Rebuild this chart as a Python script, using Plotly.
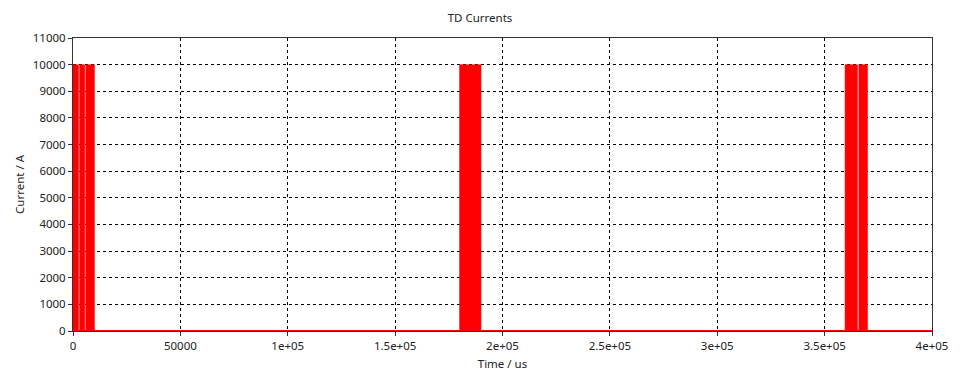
import plotly.graph_objects as go

# Pulse data (microseconds, amperes)
pulse_starts = [0, 3100, 6000, 180000, 359500, 365900]
pulse_ends = [2600, 5500, 10000, 190000, 365300, 370000]
pulse_current = 10000
t_end = 400000

x_ticks = [0, 50000, 100000, 150000, 200000, 250000, 300000, 350000, 400000]
x_ticklabels = ["0", "50000", "1e+05", "1.5e+05", "2e+05", "2.5e+05", "3e+05", "3.5e+05", "4e+05"]
y_ticks = list(range(0, 11001, 1000))
y_ticklabels = [str(v) for v in y_ticks]

fig = go.Figure()
for s, e in zip(pulse_starts, pulse_ends):
    fig.add_trace(go.Scatter(
        x=[s, s, e, e], y=[0, pulse_current, pulse_current, 0],
        mode="lines", fill="toself", fillcolor="#ff0000",
        line=dict(color="#ff0000", width=0.5),
        showlegend=False, hoverinfo="skip", cliponaxis=False))
# baseline at zero current
fig.add_trace(go.Scatter(
    x=[0, t_end], y=[0, 0], mode="lines",
    line=dict(color="#ff0000", width=2),
    showlegend=False, hoverinfo="skip", cliponaxis=False))

font = "Noto Sans"
fig.update_layout(
    width=960, height=376,
    margin=dict(l=73, r=28, t=38, b=45),
    paper_bgcolor="white", plot_bgcolor="white",
    font=dict(family=font, size=11.5, color="#222"),
    title=dict(text="TD Currents", x=0.5, xanchor="center", y=0.952, yanchor="middle",
               font=dict(size=11.5, color="#222", family=font)),
)
fig.update_xaxes(
    range=[0, 400000], tickvals=x_ticks, ticktext=x_ticklabels,
    showgrid=True, gridcolor="black", griddash="dot", gridwidth=1,
    showline=True, linecolor="#333", linewidth=1, mirror=True,
    ticks="outside", ticklen=4, tickcolor="#333",
    zeroline=False, automargin=False, layer="below traces",
    title=dict(text="Time / us", standoff=8, font=dict(size=11.5)),
)
fig.update_yaxes(
    range=[0, 11000], tickvals=y_ticks, ticktext=y_ticklabels,
    showgrid=True, gridcolor="black", griddash="dot", gridwidth=1,
    showline=True, linecolor="#333", linewidth=1, mirror=True,
    ticks="outside", ticklen=4, tickcolor="#333",
    zeroline=False, automargin=False, layer="below traces",
    title=dict(text="Current / A", standoff=5, font=dict(size=11.5)),
)

fig.write_html("out.html")
